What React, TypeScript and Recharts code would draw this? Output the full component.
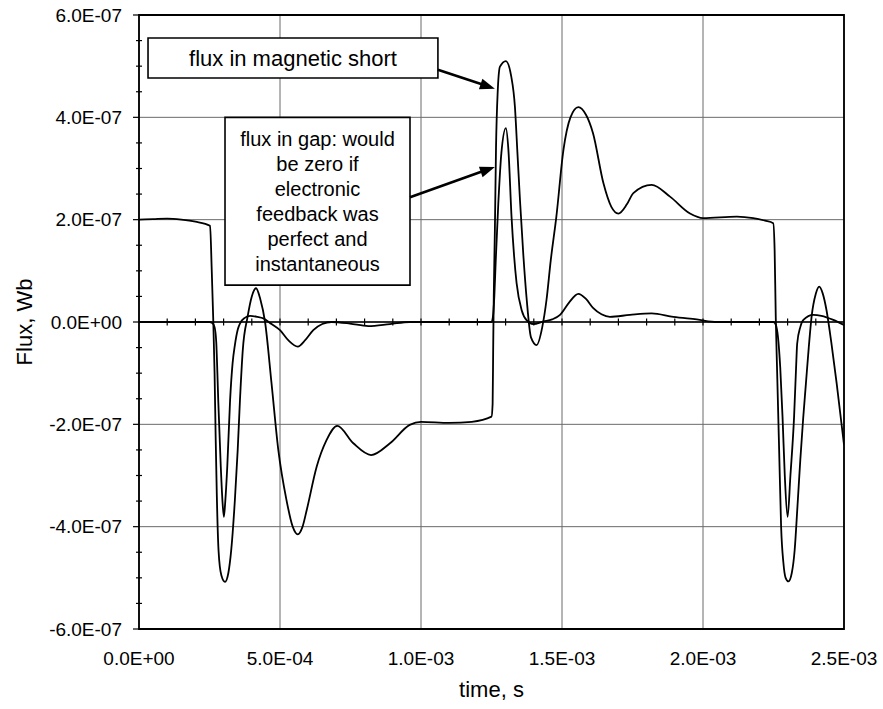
import React from 'react';
import { LineChart, Line, XAxis, YAxis, CartesianGrid, ReferenceLine, ReferenceArea } from 'recharts';

// time in units of 1e-4 s, flux in units of 1e-7 Wb
const shortTime = [
  0, 0.5, 1.0, 1.5, 2.0, 2.52, 2.58, 2.63, 2.68, 2.72, 2.76, 2.82, 2.92, 3.05, 3.17, 3.27, 3.4, 3.5, 3.58, 3.68,
  3.85, 4.0, 4.15, 4.3, 4.47, 4.7, 4.94, 5.23, 5.45, 5.63, 5.8, 5.95, 6.3, 6.65, 7.03, 7.6, 8.23, 8.9, 9.6, 10.0,
  11.0, 11.8, 12.5, 12.54, 12.56, 12.58, 12.62, 12.66, 12.72, 12.8, 13.01, 13.2, 13.33, 13.42, 13.51, 13.63, 13.75,
  13.9, 14.1, 14.3, 14.45, 14.6, 14.8, 15.05, 15.3, 15.58, 15.85, 16.1, 16.47, 16.75, 17.0, 17.3, 17.53, 18.18,
  18.83, 19.54, 20.0, 21.2, 21.78, 22.2, 22.49, 22.54, 22.58, 22.63, 22.7, 22.77, 22.85, 22.93, 23.03, 23.15,
  23.25, 23.35, 23.45, 23.55, 23.65, 23.75, 23.85, 24.0, 24.12, 24.25, 24.38, 24.55, 24.74, 25.0,
];
const shortFlux = [
  2.0, 2.01, 2.02, 2.0, 1.96, 1.88, 1.0, 0.1, -1.0, -2.3, -3.4, -4.46, -4.95, -5.08, -4.9, -4.46, -3.48, -2.5, -1.53, -0.55,
  0.1, 0.5, 0.66, 0.45, 0.0, -1.2, -2.5, -3.48, -4.0, -4.15, -4.0, -3.67, -2.83, -2.31, -2.03, -2.37, -2.6, -2.37, -2.01, -1.95,
  -1.97, -1.95, -1.85, -1.6, -0.5, 0.5, 1.8, 3.4, 4.5, 4.99, 5.1, 4.8, 4.21, 3.3, 2.38, 1.3, 0.43,
  -0.3, -0.45, -0.1, 0.43, 1.2, 2.06, 3.36, 4.0, 4.2, 4.05, 3.69, 2.71, 2.25, 2.12, 2.3, 2.52, 2.68,
  2.45, 2.12, 2.03, 2.06, 2.03, 1.98, 1.93, 1.4, 0.1, -1.0, -2.5, -4.0, -4.7, -5.0, -5.07, -4.9,
  -4.46, -3.6, -2.7, -1.9, -1.2, -0.5, 0.1, 0.55, 0.69, 0.55, 0.23, -0.4, -1.2, -2.4,
];
const gapTime = [
  0, 2.5, 2.6, 2.68, 2.74, 2.78, 2.81, 2.9, 2.96, 3.01, 3.06, 3.13, 3.23, 3.32, 3.4, 3.5, 3.58, 3.75, 3.94, 4.2,
  4.41, 4.7, 5.0, 5.3, 5.63, 5.9, 6.18, 6.5, 6.83, 7.48, 8.13, 8.9, 9.6, 12.5, 12.55, 12.6, 12.65, 12.74, 12.85,
  13.01, 13.1, 13.21, 13.3, 13.39, 13.57, 13.75, 13.98, 14.34, 14.65, 14.93, 15.25, 15.58, 15.85, 16.11, 16.4,
  16.7, 17.41, 18.18, 18.95, 19.78, 20.5, 22.5, 22.58, 22.66, 22.74, 22.82, 22.9, 23.0, 23.1, 23.23, 23.3, 23.34,
  23.45, 23.56, 23.91, 24.2, 24.62, 25.0,
];
const gapFlux = [
  0, 0, -0.02, -0.1, -0.4, -1.0, -1.53, -2.83, -3.5, -3.81, -3.5, -2.83, -1.53, -0.8, -0.45, -0.15, -0.03, 0.08, 0.12, 0.1,
  0.07, -0.04, -0.16, -0.36, -0.48, -0.35, -0.16, -0.04, 0.0, -0.03, -0.08, -0.04, 0, 0, 0.1, 0.5, 1.2, 2.3, 3.3,
  3.79, 3.36, 2.06, 1.3, 0.76, 0.23, 0.03, -0.04, 0.01, 0.05, 0.14, 0.38, 0.55, 0.45, 0.27, 0.15,
  0.1, 0.14, 0.17, 0.1, 0.05, 0, 0, -0.05, -0.3, -0.9, -1.85, -3.0, -3.81, -3.0, -1.85, -0.9, -0.42,
  -0.1, 0.04, 0.14, 0.12, 0.04, -0.06,
];

const xTicks = [0, 5e-4, 1e-3, 1.5e-3, 2e-3, 2.5e-3];
const xMinorTicks = [
  1e-4, 2e-4, 3e-4, 4e-4, 5e-4, 6e-4, 7e-4, 8e-4, 9e-4, 1e-3, 1.1e-3, 1.2e-3, 1.3e-3, 1.4e-3, 1.5e-3, 1.6e-3,
  1.7e-3, 1.8e-3, 1.9e-3, 2e-3, 2.1e-3, 2.2e-3, 2.3e-3, 2.4e-3,
];
const yMajorTicks = [-6e-7, -4e-7, -2e-7, 0, 2e-7, 4e-7, 6e-7];
const yAllTicks = [
  -6e-7, -5.5e-7, -5e-7, -4.5e-7, -4e-7, -3.5e-7, -3e-7, -2.5e-7, -2e-7, -1.5e-7, -1e-7, -0.5e-7, 0,
  0.5e-7, 1e-7, 1.5e-7, 2e-7, 2.5e-7, 3e-7, 3.5e-7, 4e-7, 4.5e-7, 5e-7, 5.5e-7, 6e-7,
];

const shortLabel = ['flux in magnetic short'];
const gapLabel = ['flux in gap: would', 'be zero if', 'electronic', 'feedback was', 'perfect and', 'instantaneous'];

const shortData = shortTime.map((t, i) => ({ t: t * 1e-4, v: shortFlux[i] * 1e-7 }));
const gapData = gapTime.map((t, i) => ({ t: t * 1e-4, v: gapFlux[i] * 1e-7 }));

const FONT = '"Liberation Sans", Arial, Helvetica, sans-serif';

const fmt = (v: number) => {
  const [m, e] = Number(v).toExponential(1).split('e');
  const sign = e[0] === '-' ? '-' : '+';
  const digits = e.replace(/^[+-]/, '').padStart(2, '0');
  return `${m}E${sign}${digits}`;
};

const isMajor = (v: number) => yMajorTicks.some((m) => Math.abs(m - v) < 1e-10);

const TICK_OFFSET = 17;
const YTick = (props: any) => {
  const { x, y, payload } = props;
  const v = payload.value;
  const ax = x + TICK_OFFSET;
  if (isMajor(v)) {
    return (
      <g>
        <line x1={ax - 6} y1={y} x2={ax} y2={y} stroke="#000" strokeWidth={1.2} />
        <text x={x} y={y} dy="0.355em" textAnchor="end" fontSize={19} fill="#000" fontFamily={FONT}>
          {fmt(v)}
        </text>
      </g>
    );
  }
  return <line x1={ax - 3} y1={y} x2={ax + 3} y2={y} stroke="#000" strokeWidth={1.2} />;
};

const ArrowShape = (props: any) => {
  const { x1, y1, x2, y2 } = props;
  const dx = x2 - x1;
  const dy = y2 - y1;
  const len = Math.hypot(dx, dy) || 1;
  const ux = dx / len;
  const uy = dy / len;
  const hl = 15;
  const hw = 5.5;
  const bx = x2 - ux * hl;
  const by = y2 - uy * hl;
  const px = -uy;
  const py = ux;
  return (
    <g>
      <line x1={x1} y1={y1} x2={bx + ux * 2} y2={by + uy * 2} stroke="#000" strokeWidth={2.6} />
      <polygon points={`${x2},${y2} ${bx + px * hw},${by + py * hw} ${bx - px * hw},${by - py * hw}`} fill="#000" />
    </g>
  );
};

const boxLabel = (lines: string[], fontSize: number, lineHeight: number) => (props: any) => {
  const vb = props.viewBox || {};
  const cx = vb.x + vb.width / 2;
  const cy = vb.y + vb.height / 2;
  const start = cy - ((lines.length - 1) * lineHeight) / 2;
  return (
    <text textAnchor="middle" fontSize={fontSize} fill="#000" fontFamily={FONT}>
      {lines.map((l, i) => (
        <tspan key={i} x={cx} y={start + i * lineHeight} dy="0.36em">
          {l}
        </tspan>
      ))}
    </text>
  );
};

export default function App() {
  return (
    <div style={{ position: 'absolute', left: 0, top: 0, background: '#fff' }}>
      <LineChart
        width={883}
        height={709}
        margin={{ top: 15, right: 39, bottom: 12, left: 19 }}
        style={{ fontFamily: FONT }}
      >
        <CartesianGrid
          stroke="#6a6a6a"
          strokeWidth={1}
          horizontalValues={yMajorTicks}
          verticalValues={xTicks}
        />
        <XAxis
          type="number"
          dataKey="t"
          domain={[0, 2.5e-3]}
          ticks={xTicks}
          interval={0}
          allowDataOverflow
          tickFormatter={fmt}
          tickLine={false}
          axisLine={false}
          tickSize={0}
          tickMargin={23}
          height={68}
          tick={{ fontSize: 19, fill: '#000', fontFamily: FONT }}
          label={{ value: 'time, s', position: 'insideBottom', offset: 0, fontSize: 22, fill: '#000', fontFamily: FONT }}
        />
        <YAxis
          type="number"
          domain={[-6e-7, 6e-7]}
          ticks={yAllTicks}
          interval={0}
          allowDataOverflow
          width={120}
          tickLine={false}
          axisLine={false}
          tickSize={0}
          tickMargin={TICK_OFFSET}
          tick={<YTick />}
          label={{
            value: 'Flux, Wb',
            angle: -90,
            position: 'insideLeft',
            offset: 5,
            fontSize: 22,
            fill: '#000',
            fontFamily: FONT,
            style: { textAnchor: 'middle' },
          }}
        />
        <ReferenceLine y={0} stroke="#000" strokeWidth={1.6} />
        {xMinorTicks.map((t) => (
          <ReferenceLine
            key={t}
            segment={[{ x: t, y: -0.07e-7 }, { x: t, y: 0.07e-7 }]}
            stroke="#000"
            strokeWidth={1.2}
          />
        ))}
        <Line
          data={shortData}
          dataKey="v"
          type="monotone"
          stroke="#000"
          strokeWidth={1.8}
          dot={false}
          isAnimationActive={false}
        />
        <Line
          data={gapData}
          dataKey="v"
          type="monotone"
          stroke="#000"
          strokeWidth={1.8}
          dot={false}
          isAnimationActive={false}
        />
        <ReferenceArea
          x1={0}
          x2={2.5e-3}
          y1={-6e-7}
          y2={6e-7}
          fill="none"
          stroke="#000"
          strokeWidth={1.8}
          ifOverflow="visible"
        />
        <ReferenceArea
          x1={0.32e-4}
          x2={10.6e-4}
          y1={4.77e-7}
          y2={5.55e-7}
          fill="#fff"
          fillOpacity={1}
          stroke="#000"
          strokeWidth={1.6}
          label={boxLabel(shortLabel, 22, 25)}
        />
        <ReferenceArea
          x1={3.05e-4}
          x2={9.61e-4}
          y1={0.72e-7}
          y2={4.0e-7}
          fill="#fff"
          fillOpacity={1}
          stroke="#000"
          strokeWidth={1.6}
          label={boxLabel(gapLabel, 20, 25)}
        />
        <ReferenceLine
          segment={[{ x: 10.6e-4, y: 4.93e-7 }, { x: 12.62e-4, y: 4.56e-7 }]}
          shape={ArrowShape}
        />
        <ReferenceLine
          segment={[{ x: 9.61e-4, y: 2.44e-7 }, { x: 12.62e-4, y: 3.03e-7 }]}
          shape={ArrowShape}
        />
      </LineChart>
    </div>
  );
}
